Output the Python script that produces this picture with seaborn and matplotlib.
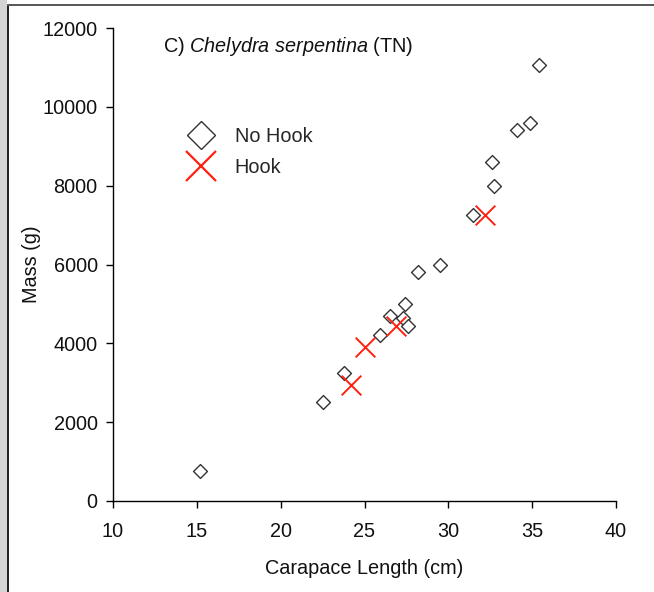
import matplotlib
matplotlib.use("Agg")
import matplotlib.pyplot as plt
import seaborn as sns
import pandas as pd
from matplotlib.lines import Line2D
from matplotlib.patches import Rectangle

# Data
nohook_cl = [15.2, 22.5, 23.8, 25.9, 26.5, 27.4, 27.3, 27.6, 28.2, 29.5, 31.5, 32.7, 32.6, 34.1, 34.9, 35.4]
nohook_mass = [750, 2500, 3250, 4200, 4700, 5000, 4650, 4450, 5800, 6000, 7250, 8000, 8600, 9400, 9600, 11050]
hook_cl = [24.2, 25.0, 26.9, 32.2]
hook_mass = [2950, 3900, 4450, 7250]
x_ticks = [10, 15, 20, 25, 30, 35, 40]
y_ticks = [0, 2000, 4000, 6000, 8000, 10000, 12000]

sns.set_style("ticks")
plt.rcParams['font.family'] = ['Liberation Sans', 'DejaVu Sans']
plt.rcParams['mathtext.fontset'] = 'custom'
plt.rcParams['mathtext.rm'] = 'Liberation Sans'
plt.rcParams['mathtext.it'] = 'Liberation Sans:italic'

FS = 14.3
TXT = "#111111"

fig = plt.figure(figsize=(6.54, 5.92), dpi=100)
ax = fig.add_axes([113/654, 1-501/592, (616-113)/654, (501-28)/592])

df_n = pd.DataFrame({"cl": nohook_cl, "mass": nohook_mass})
df_h = pd.DataFrame({"cl": hook_cl, "mass": hook_mass})

sns.scatterplot(data=df_n, x="cl", y="mass", marker="D", s=50, facecolor="white",
                edgecolor="#333333", linewidth=1.0, ax=ax, zorder=3)
sns.scatterplot(data=df_h, x="cl", y="mass", marker="x", s=200, color="#ff2010",
                linewidth=1.4, ax=ax, zorder=4)

ax.set_xlim(10, 40)
ax.set_ylim(0, 12000)
ax.set_xticks(x_ticks)
ax.set_yticks(y_ticks)
ax.set_xticklabels([str(t) for t in x_ticks])
ax.set_yticklabels([str(t) for t in y_ticks])
ax.tick_params(axis="both", direction="out", length=5, width=1.0, color="black",
               labelsize=FS, labelcolor=TXT)
ax.tick_params(axis="x", pad=10)
ax.tick_params(axis="y", pad=6)
for sp in ["top", "right"]:
    ax.spines[sp].set_visible(False)
for sp in ["left", "bottom"]:
    ax.spines[sp].set_linewidth(1.0)
    ax.spines[sp].set_color("black")

ax.set_xlabel("Carapace Length (cm)", fontsize=FS, color=TXT, labelpad=13)
ax.set_ylabel("Mass (g)", fontsize=FS, color=TXT, labelpad=1)

ax.text((163-113)/503, (501-46)/473, r"C) $\mathit{Chelydra\ serpentina}$ (TN)",
        transform=ax.transAxes, fontsize=FS, color=TXT, ha="left", va="center")

handles = [
    Line2D([], [], marker="D", linestyle="none", markersize=14, markerfacecolor="white",
           markeredgecolor="#333333", markeredgewidth=1.0, label="No Hook"),
    Line2D([], [], marker="x", linestyle="none", markersize=21, color="#ff2010",
           markeredgewidth=1.6, label="Hook"),
]
ax.legend(handles=handles, loc="upper left", bbox_to_anchor=((181-113)/503, (501-127)/473),
          frameon=False, fontsize=FS, handletextpad=0.7, labelspacing=0.62,
          borderaxespad=0, borderpad=0, handlelength=2.0)

# frame border like the reference screenshot
fig.patches.append(Rectangle((0, 0), 7/654, 1, transform=fig.transFigure,
                             facecolor="#d4d4d4", edgecolor="none", zorder=0))
fig.patches.append(Rectangle((7/654, 0), 2/654, 1-5/592, transform=fig.transFigure,
                             facecolor="#222222", edgecolor="none", zorder=1))
fig.patches.append(Rectangle((7/654, 1-6/592), 1-7/654, 2/592, transform=fig.transFigure,
                             facecolor="#5a5a5a", edgecolor="none", zorder=1))

fig.savefig("out.png", dpi=100)
